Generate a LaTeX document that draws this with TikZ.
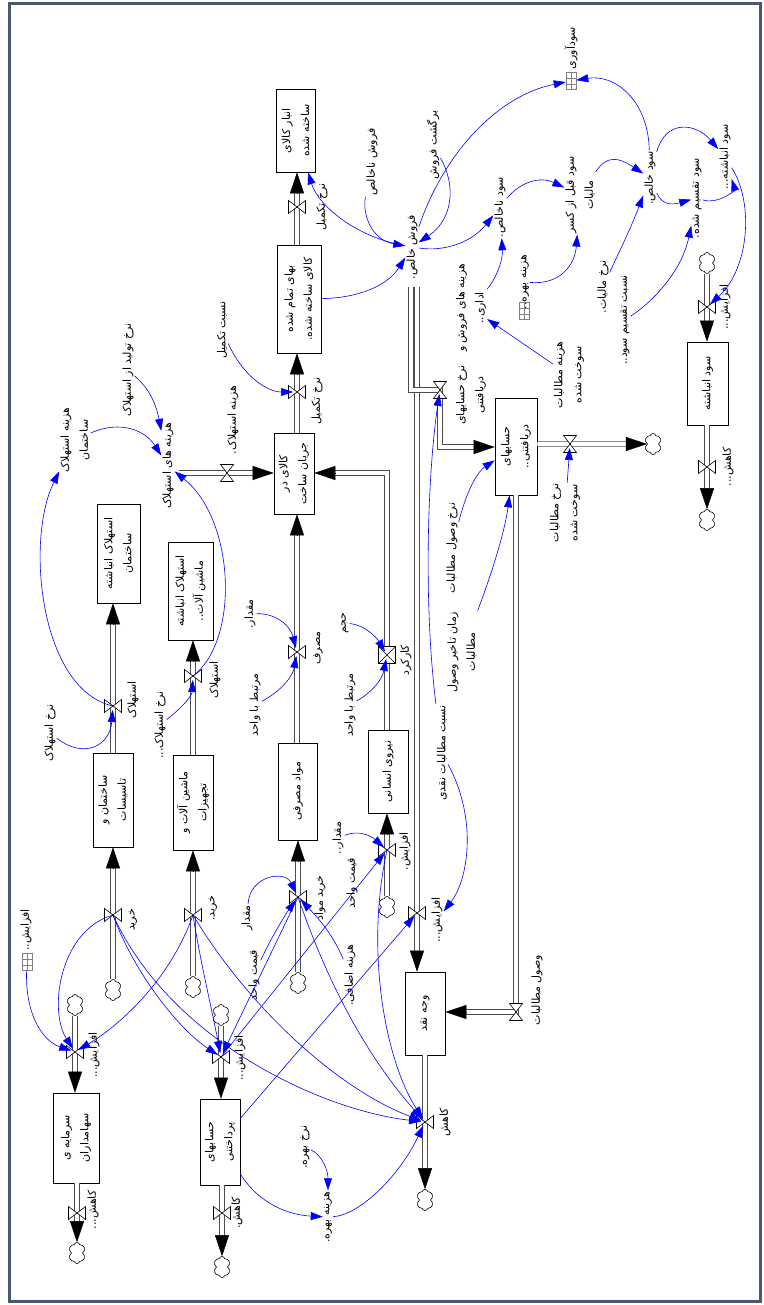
\documentclass[tikz,border=0pt]{standalone}
\usepackage{fontspec}
\TeXXeTstate=1
\newfontfamily\arf[Script=Arabic]{DejaVu Sans}
\usetikzlibrary{arrows.meta,shapes.symbols,calc}
\definecolor{framec}{RGB}{74,88,110}
\newcommand\gridlines[1]{\draw[gray,line width=.4pt] (#1.north) -- (#1.south) ($(#1.north west)!.333!(#1.south west)$) -- ($(#1.north east)!.333!(#1.south east)$) ($(#1.north west)!.667!(#1.south west)$) -- ($(#1.north east)!.667!(#1.south east)$);}
\tikzset{
 lbl/.style={rotate=90, inner sep=1pt, font=\arf\fontsize{11}{19}\selectfont, align=center},
 stock/.style={lbl, draw=black, line width=0.7pt, fill=white, inner sep=2pt},
 pipe/.style={draw=black!70, line width=0.8pt, double=white, double distance=3.6pt, line join=miter},
 phead/.style={draw=black, line width=0.4pt, -{Triangle[length=21pt,width=14pt]}},
 link/.style={draw=blue, line width=0.6pt, -{Triangle[length=12pt,width=8pt]}},
 tov/.style={shorten >=4pt},
 cloudn/.style={cloud, cloud puffs=6, draw=black, line width=0.6pt, fill=white, minimum width=17pt, minimum height=21pt, inner sep=0pt},
 gicon/.style={draw=gray, line width=0.5pt, minimum width=10pt, minimum height=17pt, inner sep=0pt},
 vv/.pic={\draw[black, line width=0.6pt, fill=white] (-8.5pt,-6.5pt) -- (8.5pt,6.5pt) -- (8.5pt,-6.5pt) -- (-8.5pt,6.5pt) -- cycle;},
 hv/.pic={\draw[black, line width=0.6pt, fill=white] (-6.5pt,-8.5pt) -- (6.5pt,8.5pt) -- (-6.5pt,8.5pt) -- (6.5pt,-8.5pt) -- cycle;},
 xv/.pic={\draw[black, line width=0.6pt, fill=white] (-8.5pt,-8.5pt) rectangle (8.5pt,8.5pt); \draw[black, line width=0.6pt] (-8.5pt,-8.5pt) -- (8.5pt,8.5pt) (-8.5pt,8.5pt) -- (8.5pt,-8.5pt);},
}
\begin{document}
\begin{tikzpicture}[x=1pt,y=-1pt]
\useasboundingbox (0,0) rectangle (763,1305);
\fill[white] (0,0) rectangle (763,1305);
\draw[framec, line width=2.6pt] (9.5,3.8) rectangle (760.5,1301.5);

% ---------- stocks
\node[stock, minimum width=83pt, minimum height=39pt] (S1) at (295.5,130.5) {\beginR انبار کالای\endR\\\beginR ساخته شده\endR};
\node[stock, minimum width=108pt, minimum height=44pt] (S2) at (299,299) {\beginR بهای تمام شده\endR\\\beginR کالای ساخته شده.\endR};
\node[stock, minimum width=81pt, minimum height=40pt] (S3) at (294,473.5) {\beginR کالای در\endR\\\beginR جریان ساخت\endR};
\node[stock, minimum width=97pt, minimum height=39pt] (S4) at (297.5,791.5) {\beginR مواد مصرفی\endR};
\node[stock, minimum width=83pt, minimum height=40pt] (S5) at (388,771.5) {\beginR نیروی انسانی\endR};
\node[stock, minimum width=99pt, minimum height=43pt] (S6) at (118.5,553.5) {\beginR استهلاک انباشته\endR\\\beginR ساختمان\endR};
\node[stock, minimum width=98pt, minimum height=45pt] (S7) at (190.5,591) {\beginR استهلاک انباشته\endR\\\beginR ماشین آلات..\endR};
\node[stock, minimum width=94pt, minimum height=40pt] (S8) at (113,800) {\beginR ساختمان و\endR\\\beginR تاسیسات\endR};
\node[stock, minimum width=95pt, minimum height=40pt] (S9) at (193,802.5) {\beginR ماشین آلات و\endR\\\beginR تجهیزات\endR};
\node[stock, minimum width=90pt, minimum height=46pt] (S10) at (76,1138) {\beginR سرمایه ی\endR\\\beginR سهامداران\endR};
\node[stock, minimum width=86pt, minimum height=40pt] (S11) at (220,1142) {\beginR حسابهای\endR\\\beginR پرداختنی\endR};
\node[stock, minimum width=83pt, minimum height=40pt] (S12) at (425,1013.5) {\beginR وجه نقد\endR};
\node[stock, minimum width=97pt, minimum height=42pt] (S13) at (516,446.5) {\beginR حسابهای\endR\\\beginR دریافتنی..\endR};
\node[stock, minimum width=83pt, minimum height=41pt] (S14) at (707.5,383.5) {\beginR سود انباشته\endR};

% ---------- clouds
\node[cloudn] (C6) at (298,983) {};
\node[cloudn] (C7) at (387,907) {};
\node[cloudn] (C8) at (113,990) {};
\node[cloudn] (C10) at (193,987) {};
\node[cloudn] (C12) at (75,1005) {};
\node[cloudn] (C13) at (77,1253) {};
\node[cloudn] (C14) at (221,1015) {};
\node[cloudn] (C15) at (222,1267) {};
\node[cloudn] (C18) at (653,444) {};
\node[cloudn] (C20) at (425,1200) {};
\node[cloudn] (C21) at (707,263) {};
\node[cloudn] (C22) at (707,520) {};

% ---------- valve positions
\coordinate (V1) at (297,207);
\coordinate (V2) at (297,392);
\coordinate (V3) at (227,473);
\coordinate (V4) at (387,655);
\coordinate (V5) at (297,652);
\coordinate (V6) at (298,897);
\coordinate (V7) at (387,850);
\coordinate (V8) at (113,915);
\coordinate (V9) at (113,706);
\coordinate (V10) at (193,915);
\coordinate (V11) at (193,676);
\coordinate (V12) at (75,1052);
\coordinate (V13) at (77,1213);
\coordinate (V14) at (221,1057);
\coordinate (V15) at (222,1213);
\coordinate (V16) at (417,913);
\coordinate (V17) at (440,390);
\coordinate (V18) at (570,444);
\coordinate (V19) at (516,1012);
\coordinate (V20) at (425,1122);
\coordinate (V21) at (707,307);
\coordinate (V22) at (707,467);
\coordinate (PA) at (417,287);
\coordinate (PB) at (411,287);
\coordinate (KB) at (411,390);
\coordinate (K17) at (440,447);
\coordinate (K4) at (387,473);
\coordinate (P3s) at (179,473);

% ---------- pipes
\draw[pipe] (V1 |- S2.east) -- ($(V1 |- S1.west)+(0,21)$);
\draw[phead] ($(V1 |- S1.west)+(0,21)$) -- (V1 |- S1.west);
\draw[pipe] (V2 |- S3.east) -- ($(V2 |- S2.west)+(0,21)$);
\draw[phead] ($(V2 |- S2.west)+(0,21)$) -- (V2 |- S2.west);
\draw[pipe] (P3s) -- ($(P3s -| S3.north)+(-21,0)$);
\draw[phead] ($(P3s -| S3.north)+(-21,0)$) -- (P3s -| S3.north);
\draw[pipe] (V4 |- S5.east) -- (K4) -- ($(K4 -| S3.south)+(21,0)$);
\draw[phead] ($(K4 -| S3.south)+(21,0)$) -- (K4 -| S3.south);
\draw[pipe] (V5 |- S4.east) -- ($(V5 |- S3.west)+(0,21)$);
\draw[phead] ($(V5 |- S3.west)+(0,21)$) -- (V5 |- S3.west);
\draw[pipe] (C6) -- ($(V6 |- S4.west)+(0,21)$);
\draw[phead] ($(V6 |- S4.west)+(0,21)$) -- (V6 |- S4.west);
\draw[pipe] (C7) -- ($(V7 |- S5.west)+(0,21)$);
\draw[phead] ($(V7 |- S5.west)+(0,21)$) -- (V7 |- S5.west);
\draw[pipe] (C8) -- ($(V8 |- S8.west)+(0,21)$);
\draw[phead] ($(V8 |- S8.west)+(0,21)$) -- (V8 |- S8.west);
\draw[pipe] (V9 |- S8.east) -- ($(V9 |- S6.west)+(0,21)$);
\draw[phead] ($(V9 |- S6.west)+(0,21)$) -- (V9 |- S6.west);
\draw[pipe] (C10) -- ($(V10 |- S9.west)+(0,21)$);
\draw[phead] ($(V10 |- S9.west)+(0,21)$) -- (V10 |- S9.west);
\draw[pipe] (V11 |- S9.east) -- ($(V11 |- S7.west)+(0,21)$);
\draw[phead] ($(V11 |- S7.west)+(0,21)$) -- (V11 |- S7.west);
\draw[pipe] (C12) -- ($(V12 |- S10.east)+(0,-21)$);
\draw[phead] ($(V12 |- S10.east)+(0,-21)$) -- (V12 |- S10.east);
\draw[pipe] (V13 |- S10.west) -- ($(C13.north)+(0,-21)$);
\draw[phead] ($(C13.north)+(0,-21)$) -- (C13.north);
\draw[pipe] (C14) -- ($(V14 |- S11.east)+(0,-21)$);
\draw[phead] ($(V14 |- S11.east)+(0,-21)$) -- (V14 |- S11.east);
\draw[pipe] (V15 |- S11.west) -- ($(C15.north)+(0,-21)$);
\draw[phead] ($(C15.north)+(0,-21)$) -- (C15.north);
\draw[pipe] (PA) -- ($(PA |- S12.east)+(0,-21)$);
\draw[phead] ($(PA |- S12.east)+(0,-21)$) -- (PA |- S12.east);
\draw[pipe] (PB) -- (KB) -- (V17) -- (K17) -- ($(K17 -| S13.north)+(-21,0)$);
\draw[phead] ($(K17 -| S13.north)+(-21,0)$) -- (K17 -| S13.north);
\draw[pipe] (V18 -| S13.south) -- ($(C18.west)+(-21,0)$);
\draw[phead] ($(C18.west)+(-21,0)$) -- (C18.west);
\draw[pipe] (V19 |- S13.west) -- (V19) -- ($(V19 -| S12.south)+(21,0)$);
\draw[phead] ($(V19 -| S12.south)+(21,0)$) -- (V19 -| S12.south);
\draw[pipe] (V20 |- S12.west) -- ($(C20.north)+(0,-21)$);
\draw[phead] ($(C20.north)+(0,-21)$) -- (C20.north);
\draw[pipe] (C21) -- ($(V21 |- S14.east)+(0,-21)$);
\draw[phead] ($(V21 |- S14.east)+(0,-21)$) -- (V21 |- S14.east);
\draw[pipe] (V22 |- S14.west) -- ($(C22.north)+(0,-21)$);
\draw[phead] ($(C22.north)+(0,-21)$) -- (C22.north);

% ---------- valves
\foreach \v in {V1,V2,V5,V6,V7,V8,V9,V10,V11,V12,V13,V14,V15,V16,V20,V21,V22} {\pic at (\v) {vv};}
\foreach \v in {V3,V17,V18,V19} {\pic at (\v) {hv};}
\pic at (V4) {xv};

% ---------- labels
\node[lbl] (A1) at (571,48) {\beginR سودآوری\endR};
\node[gicon] (I1) at (571,81) {}; \gridlines{I1}
\node[lbl] (A2) at (412,247) {\beginR فروش خالص.\endR};
\node[lbl] (A3) at (372,162) {\beginR فروش ناخالص\endR};
\node[lbl] (A4) at (433,145) {\beginR برگشت فروش\endR};
\node[lbl] (A5) at (500,207) {\beginR سود ناخالص.\endR};
\node[lbl] (A6) at (471,308) {\beginR هزینه های فروش و\endR\\\beginR اداری..\endR};
\node[lbl] (A7) at (580,195) {\beginR سود قبل از کسر\endR\\\beginR مالیات\endR};
\node[lbl] (A8) at (650,178) {\beginR سود خالص.\endR};
\node[lbl] (A9) at (697,198) {\beginR سود تقسیم شده.\endR};
\node[lbl] (A10) at (725,157) {\beginR سود انباشته...\endR};
\node[lbl] (A11) at (603,287) {\beginR نرخ مالیات.\endR};
\node[lbl] (A12) at (625,320) {\beginR نسبت تقسیم سود..\endR};
\node[lbl] (A13) at (525,282) {\beginR هزینه بهره..\endR};
\node[gicon] (I2) at (524,311) {}; \gridlines{I2}
\node[lbl] (A14) at (569,375) {\beginR هزینه مطالبات\endR\\\beginR سوخت شده\endR};
\node[lbl] (A15) at (565,513) {\beginR نرخ مطالبات\endR\\\beginR سوخت شده\endR};
\node[lbl] (A16) at (452,548) {\beginR نرخ وصول مطالبات\endR};
\node[lbl] (A17) at (462,652) {\beginR زمان تاخیر وصول\endR\\\beginR مطالبات\endR};
\node[lbl] (A18) at (442,753) {\beginR نسبت مطالبات نقدی\endR};
\node[lbl] (L17) at (471,395) {\beginR نرخ حسابهای\endR\\\beginR دریافتنی\endR};
\node[lbl] (A20) at (75,440) {\beginR هزینه استهلاک\endR\\\beginR ساختمان\endR};
\node[lbl] (A21) at (128,370) {\beginR نرخ تولید از استهلاک\endR};
\node[lbl] (A22) at (168,466) {\beginR هزینه های استهلاک\endR};
\node[lbl] (A23) at (233,420) {\beginR هزینه استهلاک.\endR};
\node[lbl] (A24) at (222,330) {\beginR نسبت تکمیل\endR};
\node[lbl] (A25) at (317,401) {\beginR نرخ تکمیل\endR};
\node[lbl] (A26) at (322,207) {\beginR نرخ تکمیل\endR};
\node[lbl] (A27) at (250,614) {\beginR مقدار.\endR};
\node[lbl] (A28) at (255,705) {\beginR مرتبط با واحد\endR};
\node[lbl] (A29) at (345,623) {\beginR حجم\endR};
\node[lbl] (A30) at (350,705) {\beginR مرتبط با واحد\endR};
\node[lbl] (A31) at (406,660) {\beginR کارکرد\endR};
\node[lbl] (A32) at (318,648) {\beginR مصرف\endR};
\node[lbl] (A33) at (50,733) {\beginR نرخ استهلاک\endR};
\node[lbl] (A34) at (160,725) {\beginR نرخ استهلاک...\endR};
\node[lbl] (A35) at (133,920) {\beginR خرید\endR};
\node[lbl] (A36) at (133,700) {\beginR استهلاک\endR};
\node[lbl] (A37) at (213,908) {\beginR خرید.\endR};
\node[lbl] (A38) at (215,680) {\beginR استهلاک\endR};
\node[lbl] (A39) at (26,930) {\beginR افزایش..\endR};
\node[gicon] (I3) at (27,962) {}; \gridlines{I3}
\node[lbl] (A40) at (247,918) {\beginR مقدار\endR};
\node[lbl] (A41) at (254,975) {\beginR قیمت واحد\endR};
\node[lbl] (A42) at (350,975) {\beginR هزینه اضافی.\endR};
\node[lbl] (A43) at (338,838) {\beginR مقدار..\endR};
\node[lbl] (A44) at (352,883) {\beginR قیمت واحد\endR};
\node[lbl] (A45) at (320,898) {\beginR خرید مواد\endR};
\node[lbl] (A46) at (405,851) {\beginR افزایش.\endR};
\node[lbl] (A47) at (437,920) {\beginR افزایش...\endR};
\node[lbl] (A48) at (537,990) {\beginR وصول مطالبات\endR};
\node[lbl] (A49) at (445,1122) {\beginR کاهش\endR};
\node[lbl] (A50) at (305,1147) {\beginR نرخ بهره.\endR};
\node[lbl] (A51) at (328,1217) {\beginR هزینه بهره.\endR};
\node[lbl] (A52) at (94,1055) {\beginR افزایش...\endR};
\node[lbl] (A53) at (93,1210) {\beginR کاهش...\endR};
\node[lbl] (A54) at (240,1058) {\beginR افزایش...\endR};
\node[lbl] (A55) at (237,1213) {\beginR کاهش.\endR};
\node[lbl] (A56) at (725,307) {\beginR افزایش...\endR};
\node[lbl] (A57) at (728,467) {\beginR کاهش...\endR};

% ---------- links
\draw[link] (A2) .. controls (355,237) and (318,205) .. (S1);
\draw[link] (A3) .. controls (362,215) and (372,240) .. (A2);
\draw[link] (S2) .. controls (360,298) and (388,285) .. (A2);
\draw[link] (A4) .. controls (457,187) and (452,220) .. (A2);
\draw[link] (A2) .. controls (445,150) and (500,95) .. (I1);
\draw[link] (A2) .. controls (445,252) and (472,242) .. (A5);
\draw[link] (A5) .. controls (520,182) and (540,176) .. (A7);
\draw[link] (A6) .. controls (495,280) and (503,262) .. (A5);
\draw[link] (A7) .. controls (607,155) and (618,157) .. (A8);
\draw[link] (A8) .. controls (648,100) and (615,74) .. (I1);
\draw[link] (A8) .. controls (665,120) and (695,122) .. (A10);
\draw[link] (A8) .. controls (662,205) and (672,205) .. (A9);
\draw[link] (A9) .. controls (718,205) and (735,190) .. (A10);
\draw[link,tov] (A10) .. controls (755,205) and (748,270) .. (V21);
\draw[link] (A11) .. controls (620,250) and (630,230) .. (A8);
\draw[link] (A12) .. controls (655,300) and (682,270) .. (A9);
\draw[link] (A13) .. controls (560,285) and (575,265) .. (A7);
\draw[link] (A14) -- (A6);
\draw[link,tov] (A15) -- (V18);
\draw[link] (A16) .. controls (470,478) and (483,468) .. (S13);
\draw[link] (A17) .. controls (493,570) and (505,530) .. (S13);
\draw[link,tov] (A18) .. controls (423,600) and (428,470) .. (V17);
\draw[link] (A18) .. controls (478,820) and (468,880) .. (A47);
\draw[link,tov] (S11) -- (V16);
\draw[link,tov] (A29) .. controls (365,625) and (377,638) .. (V4);
\draw[link,tov] (A30) .. controls (372,692) and (382,680) .. (V4);
\draw[link,tov] (A27) .. controls (275,613) and (290,625) .. (V5);
\draw[link,tov] (A28) .. controls (283,690) and (293,675) .. (V5);
\draw[link,tov] (A24) .. controls (245,380) and (270,392) .. (V2);
\draw[link] (A21) .. controls (145,385) and (155,398) .. (A22);
\draw[link] (A20) .. controls (120,420) and (145,430) .. (A22);
\draw[link] (V9) .. controls (40,690) and (25,540) .. (A20);
\draw[link] (V11) .. controls (240,640) and (235,520) .. (A22);
\draw[link,tov] (A33) .. controls (85,760) and (110,745) .. (V9);
\draw[link,tov] (A34) .. controls (185,705) and (192,695) .. (V11);
\draw[link,tov] (I3) .. controls (25,1010) and (40,1040) .. (V12);
\draw[link,tov] (V8) .. controls (60,930) and (48,1010) .. (V12);
\draw[link,tov] (V10) .. controls (170,980) and (120,1025) .. (V12);
\draw[link,tov] (V8) .. controls (135,975) and (180,1030) .. (V14);
\draw[link,tov] (V10) .. controls (200,960) and (212,1010) .. (V14);
\draw[link,tov] (V8) .. controls (170,1040) and (320,1110) .. (V20);
\draw[link,tov] (V10) .. controls (250,1010) and (340,1090) .. (V20);
\draw[link,tov] (A40) .. controls (250,875) and (285,870) .. (V6);
\draw[link,tov] (A41) .. controls (270,940) and (285,915) .. (V6);
\draw[link,tov] (A42) .. controls (333,935) and (320,920) .. (V6);
\draw[link,tov] (V6) -- (V14);
\draw[link,tov] (V6) .. controls (330,990) and (370,1060) .. (V20);
\draw[link,tov] (V14) -- (V7);
\draw[link,tov] (V7) .. controls (365,950) and (385,1060) .. (V20);
\draw[link,tov] (A43) .. controls (358,830) and (370,835) .. (V7);
\draw[link] (S11) .. controls (260,1205) and (290,1215) .. (A51);
\draw[link] (A50) .. controls (322,1155) and (328,1170) .. (A51);
\draw[link,tov] (A51) .. controls (360,1215) and (400,1175) .. (V20);
\end{tikzpicture}
\end{document}
